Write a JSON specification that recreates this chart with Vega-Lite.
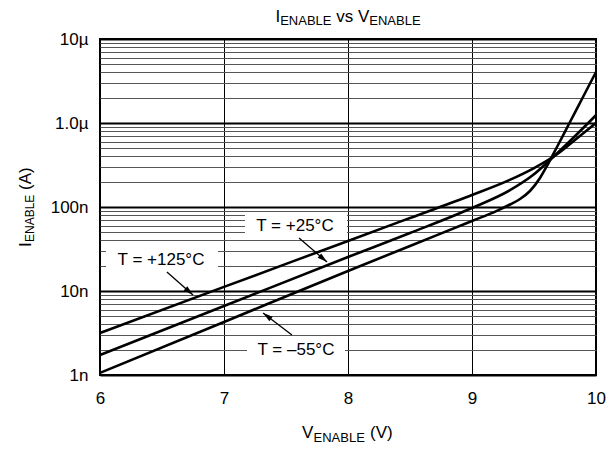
{
  "$schema": "https://vega.github.io/schema/vega-lite/v6.json",
  "width": 496,
  "height": 336,
  "autosize": {"type": "none"},
  "padding": {"left": 100, "top": 39, "right": 12, "bottom": 74},
  "background": "white",
  "config": {
    "view": {"stroke": "black", "strokeWidth": 2},
    "font": "Liberation Sans",
    "text": {"font": "Liberation Sans", "color": "black"}
  },
  "datasets": {
    "curves": [
      {"T": "+125", "V": 6, "I": 3.16e-9},
      {"T": "+125", "V": 7, "I": 1.12e-8},
      {"T": "+125", "V": 8, "I": 3.94e-8},
      {"T": "+125", "V": 8.5, "I": 7.4e-8},
      {"T": "+125", "V": 9, "I": 1.39e-7},
      {"T": "+125", "V": 9.3, "I": 2.09e-7},
      {"T": "+125", "V": 9.5, "I": 2.91e-7},
      {"T": "+125", "V": 9.7, "I": 4.4e-7},
      {"T": "+125", "V": 9.85, "I": 6.63e-7},
      {"T": "+125", "V": 10, "I": 1.0e-6},
      {"T": "+25", "V": 6, "I": 1.73e-9},
      {"T": "+25", "V": 7, "I": 6.62e-9},
      {"T": "+25", "V": 8, "I": 2.54e-8},
      {"T": "+25", "V": 8.5, "I": 4.9e-8},
      {"T": "+25", "V": 9, "I": 9.73e-8},
      {"T": "+25", "V": 9.3065, "I": 1.585e-7},
      {"T": "+25", "V": 9.4919, "I": 2.399e-7},
      {"T": "+25", "V": 9.629, "I": 3.626e-7},
      {"T": "+25", "V": 9.7903, "I": 6.105e-7},
      {"T": "+25", "V": 10, "I": 1.24e-6},
      {"T": "-55", "V": 6, "I": 1.06e-9},
      {"T": "-55", "V": 7, "I": 4.28e-9},
      {"T": "-55", "V": 8, "I": 1.73e-8},
      {"T": "-55", "V": 8.5, "I": 3.44e-8},
      {"T": "-55", "V": 9, "I": 6.81e-8},
      {"T": "-55", "V": 9.2, "I": 9.0e-8},
      {"T": "-55", "V": 9.3065, "I": 1.071e-7},
      {"T": "-55", "V": 9.3871, "I": 1.245e-7},
      {"T": "-55", "V": 9.4677, "I": 1.551e-7},
      {"T": "-55", "V": 9.5484, "I": 2.214e-7},
      {"T": "-55", "V": 9.6129, "I": 3.249e-7},
      {"T": "-55", "V": 9.6855, "I": 5.179e-7},
      {"T": "-55", "V": 9.7903, "I": 1.028e-6},
      {"T": "-55", "V": 9.8952, "I": 2.039e-6},
      {"T": "-55", "V": 10, "I": 4.05e-6}
    ],
    "labels": [
      {"label": "T = +25°C", "V": 7.5726, "I": 5.94e-8, "V0": 7.1694, "V1": 7.9919, "I0": 8.486e-8, "I1": 4.159e-8},
      {"label": "T = +125°C", "V": 6.4919, "I": 2.339e-8, "V0": 6.0484, "V1": 6.9516, "I0": 3.25e-8, "I1": 1.683e-8},
      {"label": "T = –55°C", "V": 7.5806, "I": 1.984e-9, "V0": 7.1855, "V1": 7.9758, "I0": 2.757e-9, "I1": 1.429e-9}
    ],
    "arrows": [
      {"V": 7.605, "I": 4.27e-8, "V2": 7.831, "I2": 2.21e-8, "dir": 130.6},
      {"V": 6.54, "I": 1.68e-8, "V2": 6.75, "I2": 8.96e-9, "dir": 131.5},
      {"V": 7.548, "I": 2.99e-9, "V2": 7.315, "I2": 5.47e-9, "dir": 307.2}
    ],
    "texts": [
      {"role": "main", "text": "I", "V": 7.4153, "I": 1.594e-5},
      {"role": "sub", "text": "ENABLE", "V": 7.4532, "I": 1.448e-5},
      {"role": "main", "text": "vs V", "V": 7.9048, "I": 1.594e-5},
      {"role": "sub", "text": "ENABLE", "V": 8.1718, "I": 1.448e-5},
      {"role": "main", "text": "V", "V": 7.629, "I": 1.778e-10},
      {"role": "sub", "text": "ENABLE", "V": 7.7218, "I": 1.594e-10},
      {"role": "main", "text": "(V)", "V": 8.1774, "I": 1.778e-10},
      {"role": "rmain", "text": "I", "V": 5.4435, "I": 3.34e-8},
      {"role": "rsub", "text": "ENABLE", "V": 5.4677, "I": 3.83e-8},
      {"role": "rmain", "text": "(A)", "V": 5.4435, "I": 1.594e-7}
    ]
  },
  "layer": [
    {
      "data": {"name": "curves"},
      "mark": {"type": "line", "interpolate": "monotone", "color": "black", "strokeWidth": 2.6, "strokeCap": "butt"},
      "encoding": {
        "x": {
          "field": "V", "type": "quantitative",
          "scale": {"domain": [6, 10], "nice": false, "zero": false},
          "axis": {
            "values": [6, 7, 8, 9, 10], "format": "d", "title": null, "ticks": false, "domain": false,
            "grid": true, "gridColor": "black", "gridWidth": 1, "gridOpacity": 1,
            "labelFontSize": 17, "labelFont": "Liberation Sans", "labelColor": "black",
            "labelPadding": 15, "labelFlush": false, "labelOverlap": false, "labelBound": false
          }
        },
        "y": {
          "field": "I", "type": "quantitative",
          "scale": {"type": "log", "domain": [1e-9, 1e-5], "nice": false},
          "axis": {
            "values": [1e-9, 2e-9, 3e-9, 4e-9, 5e-9, 6e-9, 7e-9, 8e-9, 9e-9,
                       1e-8, 2e-8, 3e-8, 4e-8, 5e-8, 6e-8, 7e-8, 8e-8, 9e-8,
                       1e-7, 2e-7, 3e-7, 4e-7, 5e-7, 6e-7, 7e-7, 8e-7, 9e-7,
                       1e-6, 2e-6, 3e-6, 4e-6, 5e-6, 6e-6, 7e-6, 8e-6, 9e-6, 1e-5],
            "title": null, "ticks": false, "domain": false,
            "grid": true, "gridOpacity": 1,
            "gridColor": {"condition": {"test": "abs(log(datum.value)/LN10 - round(log(datum.value)/LN10)) < 0.01", "value": "black"}, "value": "#555"},
            "gridWidth": {"condition": {"test": "abs(log(datum.value)/LN10 - round(log(datum.value)/LN10)) < 0.01", "value": 2.2}, "value": 1},
            "labelExpr": "abs(datum.value-1e-5)<1e-7 ? '10µ' : abs(datum.value-1e-6)<1e-8 ? '1.0µ' : abs(datum.value-1e-7)<1e-9 ? '100n' : abs(datum.value-1e-8)<1e-10 ? '10n' : abs(datum.value-1e-9)<1e-11 ? '1n' : ''",
            "labelFontSize": 17, "labelFont": "Liberation Sans", "labelColor": "black",
            "labelPadding": 12, "labelOverlap": false, "labelFlush": false, "labelBound": false
          }
        },
        "detail": {"field": "T", "type": "nominal"}
      }
    },
    {
      "data": {"name": "labels"},
      "mark": {"type": "rect", "fill": "white", "stroke": null},
      "encoding": {
        "x": {"field": "V0", "type": "quantitative"},
        "x2": {"field": "V1"},
        "y": {"field": "I0", "type": "quantitative"},
        "y2": {"field": "I1"}
      }
    },
    {
      "data": {"name": "labels"},
      "mark": {"type": "text", "fontSize": 17, "align": "center", "baseline": "middle", "font": "Liberation Sans", "color": "black"},
      "encoding": {
        "x": {"field": "V", "type": "quantitative"},
        "y": {"field": "I", "type": "quantitative"},
        "text": {"field": "label"}
      }
    },
    {
      "data": {"name": "arrows"},
      "mark": {"type": "rule", "color": "black", "strokeWidth": 1.3},
      "encoding": {
        "x": {"field": "V", "type": "quantitative"},
        "y": {"field": "I", "type": "quantitative"},
        "x2": {"field": "V2"},
        "y2": {"field": "I2"}
      }
    },
    {
      "data": {"name": "arrows"},
      "mark": {"type": "point", "shape": "M0,0L-0.55,2L0.55,2Z", "filled": true, "color": "black", "opacity": 1, "size": 100, "strokeWidth": 0},
      "encoding": {
        "x": {"field": "V2", "type": "quantitative"},
        "y": {"field": "I2", "type": "quantitative"},
        "angle": {"field": "dir", "type": "quantitative", "scale": null}
      }
    },
    {
      "data": {"name": "texts"},
      "transform": [{"filter": "datum.role === 'main'"}],
      "mark": {"type": "text", "fontSize": 17, "align": "left", "baseline": "alphabetic", "font": "Liberation Sans", "color": "black"},
      "encoding": {
        "x": {"field": "V", "type": "quantitative"},
        "y": {"field": "I", "type": "quantitative"},
        "text": {"field": "text"}
      }
    },
    {
      "data": {"name": "texts"},
      "transform": [{"filter": "datum.role === 'sub'"}],
      "mark": {"type": "text", "fontSize": 13, "align": "left", "baseline": "alphabetic", "font": "Liberation Sans", "color": "black"},
      "encoding": {
        "x": {"field": "V", "type": "quantitative"},
        "y": {"field": "I", "type": "quantitative"},
        "text": {"field": "text"}
      }
    },
    {
      "data": {"name": "texts"},
      "transform": [{"filter": "datum.role === 'rmain'"}],
      "mark": {"type": "text", "fontSize": 17, "align": "left", "baseline": "alphabetic", "angle": 270, "font": "Liberation Sans", "color": "black"},
      "encoding": {
        "x": {"field": "V", "type": "quantitative"},
        "y": {"field": "I", "type": "quantitative"},
        "text": {"field": "text"}
      }
    },
    {
      "data": {"name": "texts"},
      "transform": [{"filter": "datum.role === 'rsub'"}],
      "mark": {"type": "text", "fontSize": 12, "align": "left", "baseline": "alphabetic", "angle": 270, "font": "Liberation Sans", "color": "black"},
      "encoding": {
        "x": {"field": "V", "type": "quantitative"},
        "y": {"field": "I", "type": "quantitative"},
        "text": {"field": "text"}
      }
    }
  ]
}
